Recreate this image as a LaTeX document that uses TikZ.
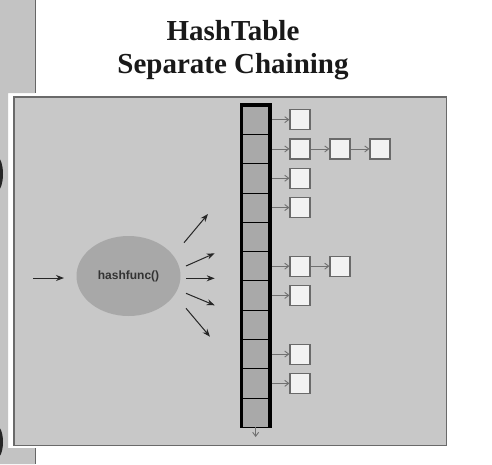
\documentclass[tikz,border=0pt]{standalone}
\usepackage{fontspec}
\setmainfont{Liberation Serif}
\newfontfamily\hfsans{Liberation Sans}
\usetikzlibrary{arrows.meta,shapes.geometric}
\definecolor{panelgray}{HTML}{C8C8C8}
\definecolor{stripgray}{HTML}{C3C3C3}
\definecolor{cellgray}{HTML}{A9A9A9}
\definecolor{ovalgray}{HTML}{A8A8A8}
\definecolor{boxwhite}{HTML}{F2F2F2}
\definecolor{edgegray}{HTML}{6A6A6A}
\definecolor{linkgray}{HTML}{707070}
\tikzset{
  cellbox/.style={draw=black, line width=0.8pt, fill=cellgray, minimum width=28.7pt, minimum height=29.3pt, inner sep=0pt, outer sep=0pt},
  listbox/.style={draw=edgegray, line width=1.1pt, fill=boxwhite, minimum width=20pt, minimum height=20pt, inner sep=0pt},
  link/.style={draw=linkgray, line width=0.9pt, -{Straight Barb[length=4pt,width=6pt]}},
  hfarrow/.style={draw=black!85, line width=1pt, -{Stealth[length=8pt,width=6pt]}},
  titlefont/.style={font=\fontsize{29}{34}\selectfont\bfseries, text=black!90}
}
\begin{document}
\begin{tikzpicture}[x=1pt,y=-1pt]
\useasboundingbox (0,0) rectangle (492,464);
% left strip
\fill[stripgray] (0,0) -- (35,0) -- (35,93) -- (8,93) -- (8,448) -- (35,448) -- (35,464) -- (0,464) -- cycle;
\draw[gray!80!black, line width=1pt] (35,0) -- (35,93);
\draw[gray!80!black, line width=1pt] (35,448) -- (35,464);
\begin{scope}
\clip (0,0) rectangle (8,464);
\fill[black!85] (-4,174) ellipse [x radius=7, y radius=18];
\fill[black!85] (-4,442) ellipse [x radius=7, y radius=17];
\end{scope}
% title
\node[titlefont, align=center] (title) at (233,50) {HashTable\\[-1pt]Separate Chaining};
% panel
\draw[edgegray, fill=panelgray, line width=1.3pt] (14,97) rectangle (446.5,445.5);
% cells
\foreach \i in {0,...,10} {
  \node[cellbox] (cell\i) at (255.65, {105+29.3*(\i+0.5)}) {};
}
% thick frame of table (open at bottom)
\draw[black, line width=3.6pt] (241.3,427.6) -- (241.3,105) -- (270,105) -- (270,427.6);
\coordinate (tblbot) at (255.65,427);
\coordinate (tblend) at (255.65,437);
\draw[link] (tblbot) -- (tblend);
% list boxes
\foreach \i/\n in {0/1,1/3,2/1,3/1,5/2,6/1,8/1,9/1} {
  \foreach \k in {1,...,\n} {
    \node[listbox] (b\i-\k) at ({300+40*(\k-1)}, {105+29.3*(\i+0.5)}) {};
  }
  \draw[link] (cell\i.east) ++(1.5,0) -- (b\i-1.west);
}
\draw[link] (b1-1.east) -- (b1-2.west);
\draw[link] (b1-2.east) -- (b1-3.west);
\draw[link] (b5-1.east) -- (b5-2.west);
% hash function
\node[ellipse, fill=ovalgray, minimum width=104pt, minimum height=80pt, inner sep=0pt, font=\hfsans\bfseries\fontsize{12}{14}\selectfont, text=black!80] (hf) at (128.5,276) {hashfunc()};
\coordinate (in) at (33,278);
\coordinate (inend) at (64,278);
\draw[hfarrow] (in) -- (inend);
\coordinate (o1) at (208,214);
\coordinate (o2) at (214.7,253.3);
\coordinate (o3) at (214.7,278.3);
\coordinate (o4) at (214.7,305.3);
\coordinate (o5) at (210,336.7);
\coordinate (s1) at (184,242.7);
\coordinate (s2) at (186,266);
\coordinate (s3) at (186,278.3);
\coordinate (s4) at (186,293.3);
\coordinate (s5) at (186,308.3);
\foreach \j in {1,...,5} { \draw[hfarrow] (s\j) -- (o\j); }
\end{tikzpicture}
\end{document}
